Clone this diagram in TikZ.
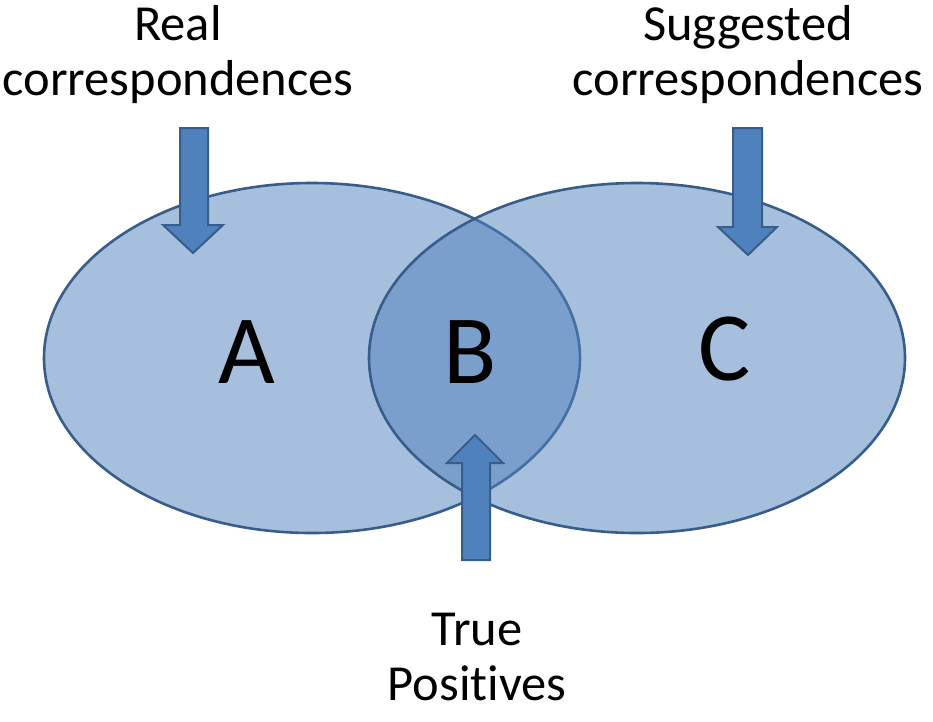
\documentclass[tikz,border=0pt]{standalone}
\usepackage{fontspec}
\setmainfont{Carlito}[Ligatures=NoCommon]
\definecolor{vfill}{HTML}{4F81BD}
\definecolor{vline}{HTML}{385D8A}
\begin{document}
\begin{tikzpicture}[x=1pt,y=-1pt,
  setshape/.style={fill=vfill,fill opacity=0.5,draw=vline,draw opacity=1,line width=2.6pt},
  blockarrow/.style={fill=vfill,draw=vline,line width=2pt,line join=miter},
  label/.style={align=center,font=\fontsize{50.5}{55}\selectfont,inner sep=0pt},
  letter/.style={font=\fontsize{98}{110}\selectfont,inner sep=0pt}]
\useasboundingbox (0,0) rectangle (933,721);
\fill[white] (0,0) rectangle (933,721);
% sets
\draw[setshape] (312,358) ellipse [x radius=268, y radius=175];
\draw[setshape] (637,358) ellipse [x radius=268, y radius=175];
% letters
\node[letter,anchor=base] (A) at (247,383) {A};
\node[letter,anchor=base] (B) at (470,383) {B};
\node[letter,anchor=base] (C) at (725,380) {C};
% labels
\node[label,anchor=base] (real) at (178,95) {Real\\correspondences};
\node[label,anchor=base] (sugg) at (748,95) {Suggested\\correspondences};
\node[label,anchor=base] (tp) at (477,700) {True\\Positives};
% arrows
\draw[blockarrow] (180,128) -- (208,128) -- (208,225) -- (223,225) -- (193,253) -- (163,225) -- (180,225) -- cycle;
\draw[blockarrow] (733,128) -- (762,128) -- (762,227) -- (777,227) -- (748,255) -- (718,227) -- (733,227) -- cycle;
\draw[blockarrow] (462,560) -- (490,560) -- (490,463) -- (503,463) -- (475,435) -- (447,463) -- (462,463) -- cycle;
\end{tikzpicture}
\end{document}
